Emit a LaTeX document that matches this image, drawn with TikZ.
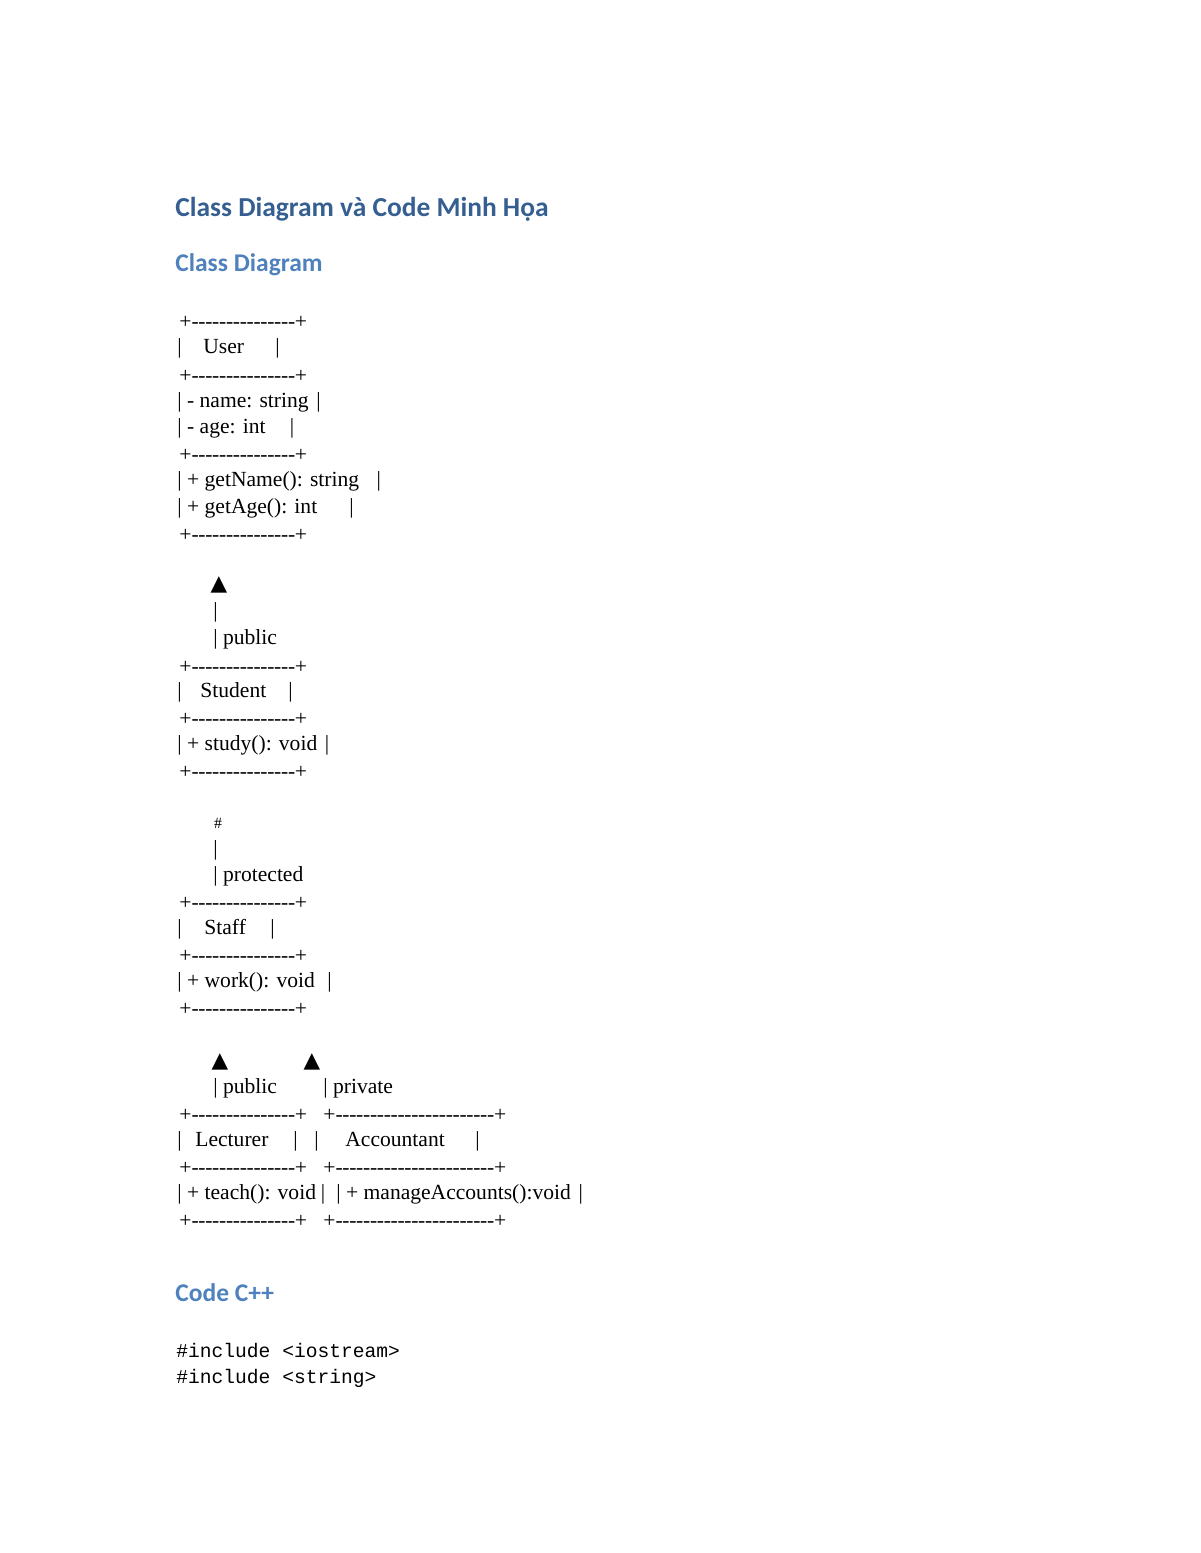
\documentclass[tikz,border=0pt]{standalone}
\usepackage{fontspec}
\usetikzlibrary{positioning}
\setmainfont{Liberation Serif}
\newfontfamily\headfont{Carlito}
\newfontfamily\codefont{Liberation Mono}
\newfontfamily\symfont{DejaVu Sans}
\definecolor{headdark}{HTML}{365F91}
\definecolor{headlight}{HTML}{4F81BD}
\newcommand{\dashrow}[1]{+\foreach \k in {1,...,#1}{\mbox{-}\kern-0.15pt}+}
\tikzset{
  body/.style={anchor=base west, inner sep=0pt, font=\fontsize{11}{13}\selectfont},
  heading/.style={anchor=base west, inner sep=0pt, text=headdark, font=\headfont\bfseries\fontsize{14}{17}\selectfont},
  subhead/.style={anchor=base west, inner sep=0pt, text=headlight, font=\headfont\bfseries\fontsize{13}{16}\selectfont},
  codeline/.style={anchor=base west, inner sep=0pt, font=\codefont\fontsize{10}{12}\selectfont},
  tip/.style={anchor=center, inner sep=0pt, font=\symfont\fontsize{11}{13}\selectfont},
}
\begin{document}
\begin{tikzpicture}[x=0.51pt,y=-0.51pt]
    \useasboundingbox (0,0) rectangle (1200,1553);

    % Text Node
    \draw (175,216) node [heading] (title) {Class Diagram và Code Minh Họa};
    % Text Node
    \draw (175,271) node [subhead] (secDiagram) {Class Diagram};

    %User
    \foreach \y/\n in {328/1,382/2,461/3,541/4}
      \draw (179,\y) node [body] (userRule\n) {\dashrow{15}};
    \draw (177,353) node [body] (userL) {|};
    \draw (203,353) node [body] (userName) {User};
    \draw (275,353) node [body] (userR) {|};
    \draw (177,407) node [body] (userAttr1) {| - name: string};
    \node [body, base right=3.5pt of userAttr1] (userAttr1R) {|};
    \draw (177,433) node [body] (userAttr2) {| - age: int};
    \node [body, base right=12pt of userAttr2] (userAttr2R) {|};
    \draw (177,486) node [body] (userOp1) {| + getName(): string};
    \node [body, base right=8.5pt of userOp1] (userOp1R) {|};
    \draw (177,513) node [body] (userOp2) {| + getAge(): int};
    \node [body, base right=16pt of userOp2] (userOp2R) {|};

    %Student
    \draw (219,585) node [tip] (tipStudent) {▲};
    \draw (213,617) node [body] (linkStudent1) {|};
    \draw (213,644) node [body] (linkStudent2) {| public};
    \foreach \y/\n in {673/1,725/2,778/3}
      \draw (179,\y) node [body] (studentRule\n) {\dashrow{15}};
    \draw (177,697) node [body] (studentL) {|};
    \draw (200,697) node [body] (studentName) {Student};
    \draw (288,697) node [body] (studentR) {|};
    \draw (177,750) node [body] (studentOp) {| + study(): void};
    \node [body, base right=3.5pt of studentOp] (studentOpR) {|};

    %Staff
    \draw (218,823) node [tip, font=\fontsize{8}{10}\selectfont] (tipStaff) {\#};
    \draw (213,855) node [body] (linkStaff1) {|};
    \draw (213,881) node [body] (linkStaff2) {| protected};
    \foreach \y/\n in {909/1,962/2,1015/3}
      \draw (179,\y) node [body] (staffRule\n) {\dashrow{15}};
    \draw (177,934) node [body] (staffL) {|};
    \draw (204,934) node [body] (staffName) {Staff};
    \draw (270,934) node [body] (staffR) {|};
    \draw (177,987) node [body] (staffOp) {| + work(): void};
    \node [body, base right=6pt of staffOp] (staffOpR) {|};

    %Lecturer and Accountant
    \draw (220,1062) node [tip] (tipLecturer) {▲};
    \draw (312,1062) node [tip] (tipAccountant) {▲};
    \draw (213,1093) node [body] (linkLecturer) {| public};
    \draw (323,1093) node [body] (linkAccountant) {| private};
    \foreach \y/\n in {1121/1,1174/2,1227/3} {
      \draw (179,\y) node [body] (lecturerRule\n) {\dashrow{15}};
      \draw (323,\y) node [body] (accountantRule\n) {\dashrow{23}};
    }
    \draw (177,1146) node [body] (lecturerL) {|};
    \draw (195,1146) node [body] (lecturerName) {Lecturer};
    \draw (293,1146) node [body] (lecturerR) {|};
    \draw (314,1146) node [body] (accountantL) {|};
    \draw (345,1146) node [body] (accountantName) {Accountant};
    \draw (475,1146) node [body] (accountantR) {|};
    \draw (177,1199) node [body] (lecturerOp) {| + teach(): void};
    \node [body, base right=2pt of lecturerOp] (lecturerOpR) {|};
    \draw (336,1199) node [body] (accountantOp) {| + manageAccounts():void};
    \node [body, base right=3.5pt of accountantOp] (accountantOpR) {|};

    % Text Node
    \draw (175,1301) node [subhead] (secCode) {Code C++};
    % Text Node
    \draw (176,1357) node [codeline] (code1) {\#include <iostream>};
    \draw (176,1383) node [codeline] (code2) {\#include <string>};

\end{tikzpicture}
\end{document}
